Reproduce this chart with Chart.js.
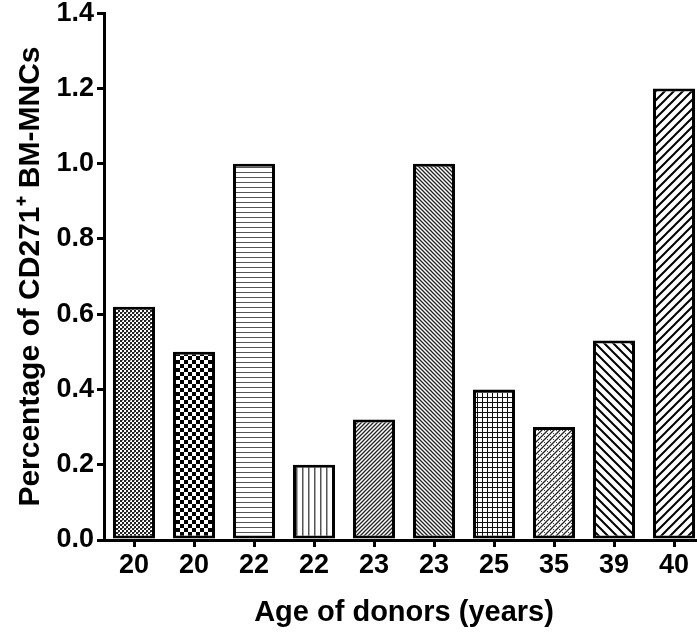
<!DOCTYPE html>
<html>
<head>
<meta charset="utf-8">
<script src="https://cdn.jsdelivr.net/npm/chart.js@4/dist/chart.umd.min.js"></script>
<style>
  html, body { margin: 0; padding: 0; background: #fff; overflow: hidden; }
  #wrap { width: 697px; height: 637px; overflow: hidden; position: relative; }
  canvas { display: block; }
</style>
</head>
<body>
<div id="wrap"><canvas id="c" width="704" height="637"></canvas></div>
<script>
const categories = ['20', '20', '22', '22', '23', '23', '25', '35', '39', '40'];
const values = [0.62, 0.50, 1.00, 0.20, 0.32, 1.00, 0.40, 0.30, 0.53, 1.20];
const yAxisTitle = 'Percentage of CD271\u207A BM-MNCs';
const xAxisTitle = 'Age of donors (years)';

function tile(size, draw) {
  const c = document.createElement('canvas');
  c.width = size; c.height = size;
  const g = c.getContext('2d');
  g.fillStyle = '#fff';
  g.fillRect(0, 0, size, size);
  draw(g, size);
  return g.createPattern(c, 'repeat');
}
function slash(g, s, w, col) {
  g.strokeStyle = col; g.lineWidth = w;
  g.beginPath();
  g.moveTo(0, s); g.lineTo(s, 0);
  g.moveTo(-2, 2); g.lineTo(2, -2);
  g.moveTo(s - 2, s + 2); g.lineTo(s + 2, s - 2);
  g.stroke();
}
function backslash(g, s, w, col) {
  g.strokeStyle = col; g.lineWidth = w;
  g.beginPath();
  g.moveTo(0, 0); g.lineTo(s, s);
  g.moveTo(s - 2, -2); g.lineTo(s + 2, 2);
  g.moveTo(-2, s - 2); g.lineTo(2, s + 2);
  g.stroke();
}
const patterns = [
  tile(4, (g) => { g.fillStyle = '#222'; g.fillRect(0, 0, 2, 2); g.fillRect(2, 2, 2, 2); g.fillStyle = '#888'; g.fillRect(2, 0, 1, 1); }),
  tile(8, (g) => { g.fillStyle = '#000'; g.fillRect(0, 0, 4, 4); g.fillRect(4, 4, 4, 4); }),
  tile(5, (g) => { g.fillStyle = '#555'; g.fillRect(0, 2, 5, 1); }),
  tile(6, (g) => { g.fillStyle = '#555'; g.fillRect(2, 0, 1.5, 6); }),
  tile(4, (g, s) => slash(g, s, 1.3, '#222')),
  tile(4, (g, s) => backslash(g, s, 1.3, '#222')),
  tile(5, (g) => { g.fillStyle = '#111'; g.fillRect(0, 2, 5, 1); g.fillRect(2, 0, 1, 5); }),
  tile(6, (g, s) => { slash(g, s, 1.3, '#222'); g.fillStyle = '#444'; g.fillRect(1, 1, 1, 1); g.fillRect(4, 4, 1, 1); }),
  tile(9, (g, s) => backslash(g, s, 2, '#000')),
  tile(9, (g, s) => slash(g, s, 2, '#000'))
];

const FONT = "'Liberation Sans', Arial, sans-serif";

new Chart(document.getElementById('c'), {
  type: 'bar',
  data: {
    labels: categories,
    datasets: [{
      data: values,
      backgroundColor: patterns,
      borderColor: '#000',
      borderWidth: 3,
      borderSkipped: false,
      barPercentage: 0.7,
      categoryPercentage: 1.0
    }]
  },
  options: {
    responsive: false,
    animation: false,
    devicePixelRatio: 1,
    layout: { padding: { top: 10, left: 0, right: 0, bottom: 0 } },
    plugins: { legend: { display: false }, tooltip: { enabled: false } },
    scales: {
      x: {
        offset: true,
        grid: { display: true, drawOnChartArea: false, offset: false, drawTicks: true, tickLength: 7, tickWidth: 3, lineWidth: 3, color: '#000' },
        border: { display: true, color: '#000', width: 3 },
        ticks: { color: '#000', padding: 5, maxRotation: 0, font: { family: FONT, size: 27, weight: 'bold', lineHeight: 1 } },
        title: { display: true, text: xAxisTitle, color: '#000', padding: { top: 0, bottom: 7 }, font: { family: FONT, size: 29, weight: 'bold' } },
        afterFit: (s) => { s.height = 97; }
      },
      y: {
        min: 0, max: 1.4,
        grid: { display: true, drawOnChartArea: false, drawTicks: true, tickLength: 7, tickWidth: 3, lineWidth: 3, color: '#000' },
        border: { display: true, color: '#000', width: 3 },
        ticks: { stepSize: 0.2, color: '#000', padding: 3, font: { family: FONT, size: 27, weight: 'bold', lineHeight: 0.75 }, callback: (v) => Number(v).toFixed(1) },
        title: { display: true, text: yAxisTitle, color: '#000', padding: { top: 13, bottom: 0 }, font: { family: FONT, size: 30, weight: 'bold' } },
        afterFit: (s) => { s.width = 104; }
      }
    }
  }
});
</script>
</body>
</html>
